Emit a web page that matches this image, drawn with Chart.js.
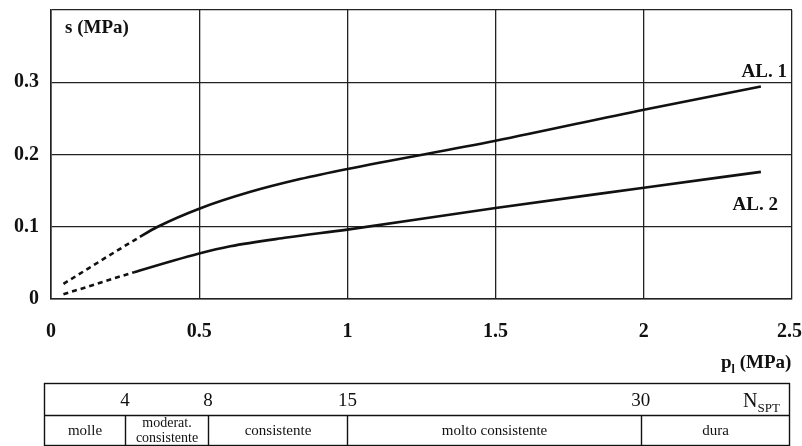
<!DOCTYPE html>
<html>
<head>
<meta charset="utf-8">
<script src="https://cdn.jsdelivr.net/npm/chart.js@4"></script>
<style>
  html, body { margin: 0; padding: 0; background: #fff; }
  #wrap { width: 802px; height: 446px; }
</style>
</head>
<body>
<div id="wrap"><canvas id="c" width="802" height="446"></canvas></div>
<script>
// Limit pressure p_l (MPa) against strength s (MPa)
const al1Pl = [0.042, 0.30, 0.36, 0.5, 0.67, 0.84, 1.0, 1.5, 2.0, 2.395];
const al1S  = [0.021, 0.086, 0.100, 0.125, 0.148, 0.166, 0.180, 0.219, 0.262, 0.294];
const al2Pl = [0.042, 0.28, 0.5, 0.605, 0.795, 1.0, 1.5, 2.0, 2.395];
const al2S  = [0.0065, 0.037, 0.063, 0.073, 0.085, 0.096, 0.126, 0.154, 0.176];
const seriesNames = ['AL. 1', 'AL. 2'];

const xTicks = [0, 0.5, 1, 1.5, 2, 2.5];
const yTicks = [0, 0.1, 0.2, 0.3];

// N_SPT correspondence strip under the plot
const nsptValues = ['4', '8', '15', '30'];
const nsptAtPl = [0.25, 0.53, 1.0, 1.99];
const consistencyClasses = ['molle', 'moderat.\nconsistente', 'consistente', 'molto consistente', 'dura'];

const SERIF = "'Liberation Serif', 'DejaVu Serif', serif";
const INK = '#111';

function toPoints(xs, ys) { return xs.map((x, i) => ({ x: x, y: ys[i] })); }

// first segment of each curve is the extrapolated (dotted) part
const dottedStart = {
  borderDash: ctx => ctx.p0DataIndex === 0 ? [5, 4] : undefined
};

const annotations = {
  id: 'annotations',
  afterDraw(chart) {
    const ctx = chart.ctx;
    const xs = chart.scales.x;
    ctx.save();
    ctx.fillStyle = INK;
    ctx.textBaseline = 'alphabetic';

    // y-axis title inside the plot
    ctx.font = 'bold 19px ' + SERIF;
    ctx.textAlign = 'left';
    ctx.fillText('s (MPa)', 65, 33);

    // curve names near their right ends
    ctx.textAlign = 'right';
    ctx.fillText(seriesNames[0], 787, 77);
    ctx.fillText(seriesNames[1], 778, 210);

    // x-axis title with subscript
    ctx.textAlign = 'left';
    let x0 = 721;
    ctx.fillText('p', x0, 368);
    const pw = ctx.measureText('p').width;
    ctx.font = 'bold 12px ' + SERIF;
    ctx.fillText('l', x0 + pw, 373);
    const lw = ctx.measureText('l').width;
    ctx.font = 'bold 19px ' + SERIF;
    ctx.fillText(' (MPa)', x0 + pw + lw, 368);

    // N_SPT strip
    const L = 44.5, R = 789.5, T = 383.5, M = 415.5, B = 445.5;
    ctx.strokeStyle = INK;
    ctx.lineWidth = 1.4;
    ctx.strokeRect(L, T, R - L, B - T);
    ctx.beginPath();
    ctx.moveTo(L, M); ctx.lineTo(R, M);
    const edges = [L];
    nsptAtPl.forEach(p => {
      const px = Math.round(xs.getPixelForValue(p)) + 0.5;
      edges.push(px);
      ctx.moveTo(px, M); ctx.lineTo(px, B);
    });
    edges.push(R);
    ctx.stroke();

    ctx.textAlign = 'center';
    ctx.font = '19px ' + SERIF;
    nsptAtPl.forEach((p, i) => {
      ctx.fillText(nsptValues[i], xs.getPixelForValue(p), 406);
    });
    // N_SPT label
    ctx.textAlign = 'left';
    ctx.font = '20px ' + SERIF;
    ctx.fillText('N', 743, 407);
    const nw = ctx.measureText('N').width;
    ctx.font = '13px ' + SERIF;
    ctx.fillText('SPT', 743 + nw, 412);

    ctx.textAlign = 'center';
    consistencyClasses.forEach((name, i) => {
      const cx = (edges[i] + edges[i + 1]) / 2;
      const lines = name.split('\n');
      if (lines.length === 1) {
        ctx.font = '15px ' + SERIF;
        ctx.fillText(lines[0], cx, 435);
      } else {
        ctx.font = '14px ' + SERIF;
        ctx.fillText(lines[0], cx, 427);
        ctx.fillText(lines[1], cx, 442);
      }
    });
    ctx.restore();
  }
};

new Chart(document.getElementById('c'), {
  type: 'line',
  data: {
    datasets: [
      {
        label: seriesNames[0],
        data: toPoints(al1Pl, al1S),
        borderColor: INK,
        borderWidth: 2.6,
        pointRadius: 0,
        cubicInterpolationMode: 'monotone',
        segment: dottedStart
      },
      {
        label: seriesNames[1],
        data: toPoints(al2Pl, al2S),
        borderColor: INK,
        borderWidth: 2.6,
        pointRadius: 0,
        cubicInterpolationMode: 'monotone',
        segment: dottedStart
      }
    ]
  },
  plugins: [annotations],
  options: {
    responsive: false,
    animation: false,
    events: [],
    layout: { padding: { top: 10, right: 10, left: 0, bottom: 0 } },
    plugins: { legend: { display: false }, tooltip: { enabled: false } },
    scales: {
      x: {
        type: 'linear',
        min: 0, max: 2.5,
        afterBuildTicks: s => { s.ticks = xTicks.map(v => ({ value: v })); },
        afterFit: s => { s.height = 147; s.paddingLeft = 0; s.paddingRight = 0; },
        grid: { color: '#222', lineWidth: 1.3, drawTicks: false },
        border: { color: '#222', width: 1.6 },
        ticks: {
          padding: 21,
          color: INK,
          font: { family: SERIF, size: 20, weight: 'bold' },
          maxRotation: 0,
          // the last label carries a trailing space so it stays inside the page
          callback: v => v === 2.5 ? '2.5 ' : String(v)
        }
      },
      y: {
        type: 'linear',
        min: 0, max: 0.4,
        afterBuildTicks: s => { s.ticks = yTicks.concat([0.4]).map(v => ({ value: v })); },
        afterFit: s => { s.width = 51; s.paddingTop = 0; s.paddingBottom = 0; },
        grid: { color: '#222', lineWidth: 1.3, drawTicks: false },
        border: { color: '#222', width: 1.6 },
        ticks: {
          padding: 12,
          color: INK,
          font: { family: SERIF, size: 20, weight: 'bold' },
          callback: v => v >= 0.4 ? '' : String(Math.round(v * 10) / 10)
        }
      }
    }
  }
});
</script>
</body>
</html>
